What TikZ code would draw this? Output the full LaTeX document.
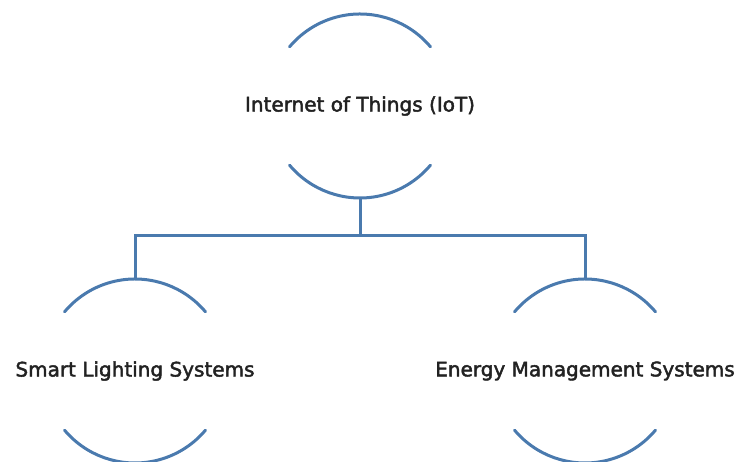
\documentclass[tikz,border=0pt]{standalone}
\usepackage{fontspec}
\setmainfont{DejaVu Sans}[BoldFont=DejaVu Sans, BoldFeatures={FakeBold=2.2}]
\definecolor{edge}{HTML}{4A7AAE}
\definecolor{txt}{HTML}{222222}
\begin{document}
\begin{tikzpicture}[x=1pt,y=1pt,
  lbl/.style={font=\fontsize{20}{22}\bfseries\selectfont, text=txt, inner sep=0pt},
  arcline/.style={draw=edge, line width=3pt, line cap=round},
  conn/.style={draw=edge, line width=3pt}]
\useasboundingbox (0,0) rectangle (736,462);
\node[lbl] (iot) at (360,356) {Internet of Things (IoT)};
\node[lbl] (sls) at (135,91) {Smart Lighting Systems};
\node[lbl] (ems) at (585,91) {Energy Management Systems};
\foreach \n in {iot,sls,ems}{
  \draw[arcline] ([shift={(40:92)}]\n.center) arc[start angle=40,end angle=140,radius=92];
  \draw[arcline] ([shift={(220:92)}]\n.center) arc[start angle=220,end angle=320,radius=92];
}
\coordinate (iotb) at ([yshift=-92]iot.center);
\coordinate (slst) at ([yshift=92]sls.center);
\coordinate (emst) at ([yshift=92]ems.center);
\coordinate (bus) at (360,226);
\draw[conn] (iotb) -- (iotb |- bus);
\draw[conn] (slst) |- (bus) -| (emst);
\end{tikzpicture}
\end{document}
